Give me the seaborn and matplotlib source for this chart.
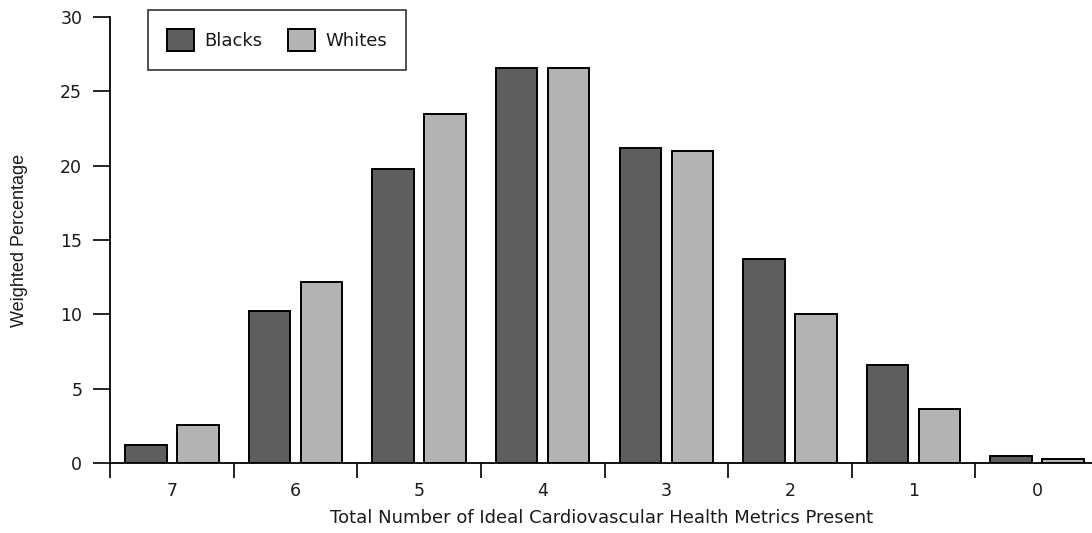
import numpy as np
import pandas as pd
import matplotlib
matplotlib.use('Agg')
import matplotlib.pyplot as plt
import seaborn as sb

# datu vērtības (nolasītas no attēla)
metrikas = ['7', '6', '5', '4', '3', '2', '1', '0']
melnie = [1.2, 10.2, 19.8, 26.6, 21.2, 13.7, 6.6, 0.5]
baltie = [2.55, 12.2, 23.5, 26.6, 21.0, 10.0, 3.6, 0.27]
grupas = ['Blacks', 'Whites']
krasas = ['#5e5e5e', '#b3b3b3']
y_ticki = [0, 5, 10, 15, 20, 25, 30]

df = pd.DataFrame({
    'metrika': metrikas * 2,
    'vertiba': melnie + baltie,
    'grupa': [grupas[0]] * len(metrikas) + [grupas[1]] * len(metrikas),
})

sb.set_style('white')
plt.rcParams['font.family'] = ['DejaVu Sans']
plt.rcParams['text.color'] = '#1a1a1a'
plt.rcParams['axes.labelcolor'] = '#1a1a1a'
plt.rcParams['xtick.color'] = '#1a1a1a'
plt.rcParams['ytick.color'] = '#1a1a1a'

fig = plt.figure(figsize=(10.92, 5.33), dpi=100)
ax = fig.add_axes([110 / 1092, 70 / 533, 989 / 1092, 446 / 533])

sb.barplot(data=df, x='metrika', y='vertiba', hue='grupa', order=metrikas,
           hue_order=grupas, palette=krasas, width=0.84, gap=0.2,
           edgecolor='black', linewidth=1.4, saturation=1, ax=ax)

ax.set_xlim(-0.5, len(metrikas) - 0.5)
ax.set_ylim(0, 30)
ax.set_yticks(y_ticki)
ax.tick_params(axis='y', direction='out', length=12, width=1.2, color='black',
               labelsize=12.5, pad=8, left=True)

# ticki starp grupām, nosaukumi centros
ax.set_xticks(np.arange(len(metrikas)) - 0.5)
ax.set_xticklabels([])
ax.set_xticks(np.arange(len(metrikas)), minor=True)
ax.set_xticklabels(metrikas, minor=True)
ax.tick_params(axis='x', which='major', direction='out', length=11, width=1.2,
               color='black', bottom=True)
ax.tick_params(axis='x', which='minor', length=0, labelsize=12.5, pad=14)

for s in ['top', 'right']:
    ax.spines[s].set_visible(False)
for s in ['left', 'bottom']:
    ax.spines[s].set_color('black')
    ax.spines[s].set_linewidth(1.3)

ax.set_xlabel('Total Number of Ideal Cardiovascular Health Metrics Present',
              fontsize=13)
ax.xaxis.set_label_coords(0.497, -0.104)
ax.set_ylabel('Weighted Percentage', fontsize=13, family='Liberation Sans')
ax.yaxis.set_label_coords(-0.083, 0.5)

leg = ax.legend(loc='upper left', bbox_to_anchor=(0.038, 1.016), ncol=2,
                fontsize=13, frameon=True, fancybox=False, edgecolor='black',
                handlelength=1.5, handleheight=1.5, columnspacing=1.4,
                handletextpad=0.6, borderpad=1.05, borderaxespad=0, title=None)
leg.get_frame().set_linewidth(1.2)

fig.savefig('out.png', dpi=100)
